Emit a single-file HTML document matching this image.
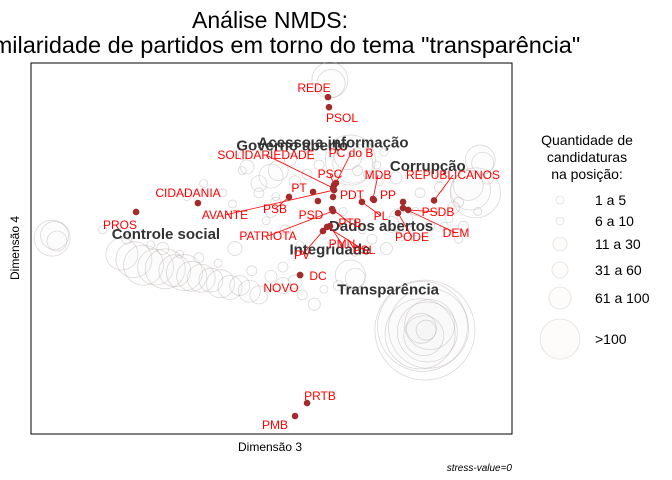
<!DOCTYPE html>
<html><head><meta charset="utf-8">
<style>
body{margin:0;background:#fff;}
svg{display:block;font-family:"Liberation Sans",sans-serif;}
</style></head>
<body>
<svg id="chart" width="672" height="480" viewBox="0 0 672 480">
<text x="270" y="28" font-size="23" text-anchor="middle" fill="#000">Análise NMDS:</text>
<text x="276" y="53" font-size="23.5" text-anchor="middle" fill="#000">Similaridade de partidos em torno do tema "transparência"</text>
<rect x="31" y="63" width="481" height="371" fill="#fff" stroke="#000" stroke-width="1"/>
<g id="bubbles"></g>
<g id="topics"></g>
<g id="parties"></g>
<text x="270" y="451" font-size="12" text-anchor="middle">Dimensão 3</text>
<text x="19" y="248" font-size="12" text-anchor="middle" transform="rotate(-90 19 248)">Dimensão 4</text>
<text x="512" y="471" font-size="10" font-style="italic" text-anchor="end">stress-value=0</text>
<g>
<text x="587" y="145" font-size="14" text-anchor="middle">Quantidade de</text>
<text x="587" y="162" font-size="14" text-anchor="middle">candidaturas</text>
<text x="587" y="179" font-size="14" text-anchor="middle">na posição:</text>
<g id="legend-items"></g>
</g>
</svg>
<script>
// data domain [-1,1] on both dimensions
const partyNames = ["REDE","PSOL","PSC","SOLIDARIEDADE","PC do B","PT","PSB","AVANTE","PDT","PSD","CIDADANIA","PROS","PTB","PATRIOTA","PMN","PSL","PV","MDB","PP","PL","PODE","PSDB","DEM","REPUBLICANOS","DC","NOVO","PRTB","PMB",""];
const partyX = [0.237,0.241,0.262,0.258,0.27,0.175,0.075,0.262,0.258,0.195,-0.304,-0.561,0.254,0.258,0.245,0.233,0.216,0.424,0.428,0.378,0.528,0.57,0.549,0.678,0.121,0.121,0.15,0.1,0.549];
const partyY = [0.816,0.762,0.342,0.326,0.353,0.305,0.278,0.315,0.278,0.256,0.245,0.197,0.213,0.202,0.121,0.116,0.094,0.267,0.262,0.251,0.191,0.208,0.218,0.259,-0.143,-0.143,-0.833,-0.903,0.251];
const labelPos = [[314,92],[342,122],[330,178],[266,159],[351,157],[299,192],[275,213],[225,219],[352,199],[311,219],[188,197],[120,229],[350,227],[268,240],[342,248],[364,254],[302,259],[378,179],[388,199],[381,220],[412,241],[438,216],[456,237],[453,179],[318,280],[281,292],[320,400],[275,429],[0,0]];
const leaderLines = [false,false,true,true,true,false,true,true,false,false,false,false,true,true,true,true,true,true,false,true,true,true,true,true,false,false,false,false,false];

const topicNames = ["Acesso a informação","Governo aberto","Corrupção","Controle social","Dados abertos","Integridade","Transparência"];
const topicX = [0.258,0.088,0.652,-0.437,0.458,0.245,0.487];
const topicY = [0.571,0.555,0.445,0.078,0.121,-0.005,-0.22];

const bubX = [0.64,0.63,0.655,0.62,0.65,0.66,0.635,0.625,0.645,-0.91,-0.9,-0.89,-0.62,-0.57,-0.53,-0.48,-0.44,-0.4,-0.36,-0.33,-0.29,-0.25,-0.21,-0.17,-0.13,-0.09,-0.05,0.245,0.25,0.33,0.34,0.32,0.83,0.85,0.82,0.87,0.88,0.0,0.03,-0.05,-0.1,0.33,0.35,0.54,0.5,0.56,0.1,0.15,0.02,-0.2,-0.12,0.7,0.76,0.4,0.45,-0.16,0.05,0.6,0.72,0.2,0.3,0.38,0.12,-0.02,0.16,0.47,0.78,-0.7,
 -0.6,-0.5,-0.45,-0.38,-0.3,-0.22,-0.15,-0.08,0.0,0.05,0.1,0.13,0.18,0.22,0.28,0.35,0.42,0.48,0.55,0.6,0.66,0.74,0.8,0.86,0.9,-0.05,0.02,0.08,-0.12,0.36,0.44,0.52,0.62,0.7,0.78,-0.28,-0.35,0.0,0.06,0.4];
const bubY = [-0.44,-0.42,-0.43,-0.46,-0.45,-0.41,-0.47,-0.43,-0.44,0.056,0.07,0.04,-0.03,-0.06,-0.09,-0.1,-0.11,-0.12,-0.13,-0.15,-0.16,-0.17,-0.19,-0.21,-0.2,-0.23,-0.25,0.908,0.89,0.477,0.46,0.5,0.315,0.3,0.34,0.477,0.46,0.39,0.42,0.35,0.44,-0.143,-0.16,0.153,0.13,0.1,0.36,0.4,0.25,0.3,0.42,0.33,0.22,0.4,0.36,0.24,-0.1,0.2,0.12,0.45,0.2,0.1,0.02,0.15,0.5,0.52,0.05,0.1,
 0.05,0.02,0.0,-0.03,-0.05,-0.08,0.0,-0.12,-0.15,-0.2,-0.18,-0.25,-0.3,-0.22,-0.2,-0.02,0.05,0.0,0.08,0.05,0.12,0.16,0.12,0.2,0.38,0.3,0.28,0.48,0.5,0.42,0.45,0.38,0.3,0.38,0.25,0.35,0.28,0.2,0.1,0.55];
const bubR = [50,45,40,35,30,25,20,15,10,18,14,10,16,18,20,18,20,16,18,15,14,12,14,12,10,11,9,18,14,25,20,14,20,25,15,15,11,12,10,8,7,15,10,12,8,7,6,5,5,4,4,5,6,4,4,4,5,4,4,5,4,4,4,4,4,4,4,4,
 5,4,6,4,5,4,7,5,6,8,7,5,6,4,5,4,5,6,7,4,5,4,5,4,6,5,4,6,4,5,4,6,5,4,5,4,4,6,5,4];

const legendLabels = ["1 a 5","6 a 10","11 a 30","31 a 60","61 a 100",">100"];
const legendR = [4,4,7,8,11,20];
const legendY = [200,221,244,270,298,339];

const NS='http://www.w3.org/2000/svg';
function sx(v){return 271+v*240.5;}
function sy(v){return 248.5-v*185.5;}
function mk(t,a,p){const e=document.createElementNS(NS,t);for(const k in a)e.setAttribute(k,a[k]);p.appendChild(e);return e;}

const bg=document.getElementById('bubbles');
for(let i=0;i<bubX.length;i++){
  const c=mk('circle',{cx:sx(bubX[i]),cy:sy(bubY[i]),r:bubR[i],fill:'rgba(240,235,230,0.06)',stroke:'rgba(170,162,158,0.45)','stroke-width':0.7},bg);
  
  
}
const tg=document.getElementById('topics');
for(let i=0;i<topicNames.length;i++){
  const t=mk('text',{x:sx(topicX[i]),y:sy(topicY[i])+5,'font-size':15,'font-weight':'bold','text-anchor':'middle',fill:'#333'},tg);
  t.textContent=topicNames[i];
  
  
}
const pg=document.getElementById('parties');
for(let i=0;i<partyX.length;i++){
  const px=sx(partyX[i]),py=sy(partyY[i]);
  if(partyNames[i]&&leaderLines[i]){
    const l=mk('line',{x1:labelPos[i][0],y1:labelPos[i][1]-4,x2:px,y2:py,stroke:'#f00','stroke-width':0.8},pg);
    
    
  }
}
for(let i=0;i<partyX.length;i++){
  const c=mk('circle',{cx:sx(partyX[i]),cy:sy(partyY[i]),r:3.3,fill:'#a52a2a'},pg);
  
  
}
for(let i=0;i<partyX.length;i++){
  if(!partyNames[i])continue;
  const t=mk('text',{x:labelPos[i][0],y:labelPos[i][1],'font-size':12,'text-anchor':'middle',fill:'#f00'},pg);
  t.textContent=partyNames[i];
  
  
}
const lg=document.getElementById('legend-items');
for(let i=0;i<legendLabels.length;i++){
  const c=mk('circle',{cx:560,cy:legendY[i],r:legendR[i],fill:'#fdfcfb',stroke:'#e4e0dd','stroke-width':0.8},lg);
  
  
  const t=mk('text',{x:595,y:legendY[i]+5,'font-size':14,fill:'#000'},lg);
  t.textContent=legendLabels[i];
  
  
}
</script>
</body></html>
